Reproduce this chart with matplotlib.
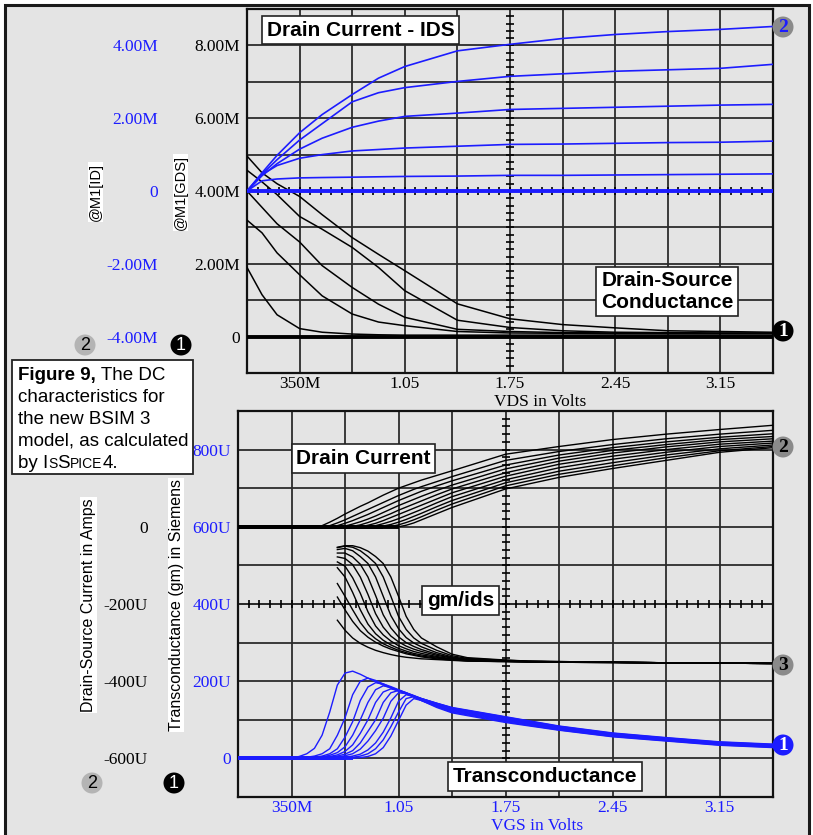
import numpy as np
import matplotlib
matplotlib.use("Agg")
import matplotlib.pyplot as plt
from matplotlib.patches import Rectangle, Ellipse

# ---------------- data ----------------
# top panel: VDS sweep, one trace per VGS step
VDS = [0, 0.1, 0.2, 0.35, 0.5, 0.7, 0.875, 1.05, 1.4, 1.75, 2.1, 2.45, 2.8, 3.15, 3.5]
ID_MA = [  # drain current, mA (blue scale)
    [0, 0.50, 0.98, 1.60, 2.10, 2.65, 3.10, 3.42, 3.85, 4.03, 4.19, 4.30, 4.38, 4.44, 4.52],
    [0, 0.46, 0.86, 1.40, 1.85, 2.45, 2.70, 2.84, 3.01, 3.15, 3.22, 3.29, 3.33, 3.37, 3.48],
    [0, 0.42, 0.75, 1.15, 1.45, 1.75, 1.92, 2.05, 2.14, 2.24, 2.27, 2.30, 2.33, 2.36, 2.38],
    [0, 0.45, 0.70, 0.90, 1.00, 1.10, 1.14, 1.18, 1.23, 1.28, 1.29, 1.31, 1.33, 1.34, 1.37],
    [0, 0.28, 0.33, 0.36, 0.37, 0.38, 0.39, 0.40, 0.41, 0.43, 0.43, 0.44, 0.45, 0.46, 0.47],
]
ID_OFF = [0, 0, 0, 0, 0, 0, 0, 0, 0, 0, 0, 0, 0, 0, 0]
GDS_MS = [  # drain-source conductance, mS (black scale)
    [4.96, 4.50, 4.20, 3.85, 3.35, 2.72, 2.26, 1.81, 0.90, 0.49, 0.33, 0.24, 0.16, 0.14, 0.12],
    [4.57, 4.25, 3.90, 3.30, 2.95, 2.45, 1.90, 1.26, 0.45, 0.25, 0.16, 0.12, 0.11, 0.10, 0.10],
    [4.00, 3.55, 3.10, 2.60, 1.95, 1.35, 0.89, 0.53, 0.20, 0.14, 0.11, 0.10, 0.09, 0.09, 0.09],
    [3.20, 2.85, 2.30, 1.70, 1.12, 0.62, 0.40, 0.30, 0.14, 0.10, 0.09, 0.08, 0.08, 0.08, 0.08],
    [1.90, 1.15, 0.60, 0.22, 0.12, 0.07, 0.05, 0.04, 0.04, 0.04, 0.04, 0.04, 0.04, 0.04, 0.04],
]
GDS_OFF = [0, 0, 0, 0, 0, 0, 0, 0, 0, 0, 0, 0, 0, 0, 0]

# bottom panel: VGS sweep, one trace per step of the second source
VGS = [0, 0.3, 0.35, 0.4, 0.45, 0.5, 0.55, 0.6, 0.65, 0.7, 0.75, 0.8, 0.85, 0.9,
       0.95, 1.0, 1.05, 1.1, 1.15, 1.2, 1.3, 1.4, 1.75, 2.1, 2.45, 2.8, 3.15, 3.5]
GM_US = [  # transconductance, uS (blue scale)
    [0, 0, 1, 5, 12, 26, 60, 120, 190, 221, 226, 218, 208, 199, 190, 182, 174, 167, 161, 155, 143, 132, 108, 84, 66, 54, 43, 37],
    [0, 0, 0, 1, 3, 6, 12, 25, 60, 105, 165, 200, 208, 202, 193, 184, 176, 169, 162, 155, 143, 131, 107, 83, 65, 53, 42, 36],
    [0, 0, 0, 0, 1, 3, 6, 12, 25, 55, 95, 150, 185, 196, 193, 186, 178, 170, 163, 155, 142, 130, 105, 82, 64, 52, 41, 35],
    [0, 0, 0, 0, 0, 2, 4, 8, 15, 30, 60, 100, 145, 178, 188, 184, 177, 170, 162, 154, 141, 129, 104, 80, 63, 51, 40, 34],
    [0, 0, 0, 0, 0, 0, 2, 5, 9, 18, 35, 65, 100, 145, 172, 180, 176, 169, 161, 153, 140, 128, 102, 79, 62, 50, 39, 33],
    [0, 0, 0, 0, 0, 0, 0, 3, 6, 11, 20, 40, 70, 100, 145, 170, 176, 170, 160, 152, 139, 126, 100, 78, 61, 49, 38, 32],
    [0, 0, 0, 0, 0, 0, 0, 0, 3, 7, 12, 24, 45, 72, 104, 148, 170, 168, 159, 151, 137, 124, 99, 77, 60, 48, 37, 31],
    [0, 0, 0, 0, 0, 0, 0, 0, 0, 3, 6, 11, 22, 40, 68, 105, 148, 165, 160, 150, 136, 122, 97, 76, 58, 47, 36, 30],
    [0, 0, 0, 0, 0, 0, 0, 0, 0, 0, 3, 6, 12, 25, 48, 82, 120, 155, 160, 150, 134, 120, 95, 74, 57, 46, 35, 29],
    [0, 0, 0, 0, 0, 0, 0, 0, 0, 0, 0, 2, 5, 12, 28, 58, 98, 138, 155, 150, 132, 118, 93, 73, 56, 45, 34, 28],
]
IDS_UA = [  # drain-source current, uA (black scale)
    [0, 0, 0, 0, 0, 0, 3, 12, 22, 33, 43, 53, 62, 72, 82, 91, 100, 107, 114, 121, 133, 145, 188, 208, 226, 240, 252, 263],
    [0, 0, 0, 0, 0, 0, 0, 3, 10, 18, 27, 36, 45, 54, 63, 72, 81, 89, 97, 104, 117, 130, 172, 195, 213, 228, 240, 250],
    [0, 0, 0, 0, 0, 0, 0, 0, 3, 9, 16, 24, 32, 41, 50, 59, 68, 76, 84, 92, 106, 119, 160, 186, 205, 220, 232, 241],
    [0, 0, 0, 0, 0, 0, 0, 0, 0, 2, 7, 13, 20, 28, 37, 46, 55, 63, 71, 79, 94, 108, 150, 178, 198, 213, 226, 234],
    [0, 0, 0, 0, 0, 0, 0, 0, 0, 0, 1, 5, 11, 18, 26, 34, 43, 51, 59, 67, 83, 98, 140, 170, 191, 207, 220, 228],
    [0, 0, 0, 0, 0, 0, 0, 0, 0, 0, 0, 0, 4, 9, 16, 24, 32, 40, 48, 56, 72, 88, 131, 162, 183, 200, 214, 222],
    [0, 0, 0, 0, 0, 0, 0, 0, 0, 0, 0, 0, 0, 3, 8, 14, 21, 29, 37, 45, 62, 78, 122, 153, 175, 193, 208, 217],
    [0, 0, 0, 0, 0, 0, 0, 0, 0, 0, 0, 0, 0, 0, 2, 6, 12, 19, 27, 35, 52, 68, 114, 144, 166, 186, 202, 212],
    [0, 0, 0, 0, 0, 0, 0, 0, 0, 0, 0, 0, 0, 0, 0, 1, 5, 11, 18, 26, 43, 59, 106, 136, 158, 179, 197, 208],
    [0, 0, 0, 0, 0, 0, 0, 0, 0, 0, 0, 0, 0, 0, 0, 0, 0, 4, 10, 18, 34, 50, 98, 128, 151, 172, 193, 205],
]
# gm/ids traces, read against the gm (blue) scale
GMI_X = [0.65, 0.7, 0.75, 0.8, 0.85, 0.9, 0.95, 1.0, 1.05, 1.1, 1.15, 1.2, 1.3, 1.4, 1.5, 1.7, 1.9, 2.45, 3.0, 3.5]
GM_IDS = [
    [547, 551, 551, 546, 537, 523, 505, 470, 420, 368, 334, 312, 289, 270, 261, 256, 252, 249, 247, 246],
    [546, 550, 547, 538, 523, 505, 470, 420, 368, 334, 312, 298, 280, 266, 259, 255, 252, 249, 247, 246],
    [541, 544, 538, 523, 505, 470, 420, 370, 336, 313, 299, 289, 274, 263, 257, 254, 251, 249, 247, 246],
    [532, 532, 522, 503, 470, 422, 372, 338, 315, 300, 290, 282, 270, 261, 256, 253, 251, 249, 247, 246],
    [522, 518, 502, 470, 425, 375, 340, 317, 302, 291, 283, 277, 267, 260, 255, 253, 251, 249, 247, 246],
    [509, 498, 468, 428, 380, 343, 320, 304, 292, 284, 277, 272, 264, 258, 254, 252, 251, 249, 247, 246],
    [494, 470, 430, 385, 348, 323, 306, 294, 285, 278, 272, 268, 262, 257, 254, 252, 250, 249, 247, 246],
    [453, 420, 385, 352, 327, 310, 297, 288, 280, 274, 269, 265, 260, 256, 253, 252, 250, 249, 247, 246],
    [418, 385, 355, 331, 314, 301, 291, 283, 277, 271, 267, 263, 258, 255, 253, 251, 250, 248, 247, 246],
    [358, 332, 312, 298, 288, 280, 274, 269, 265, 262, 260, 258, 256, 254, 252, 251, 250, 248, 247, 246],
]

# axis ticks / labels
X_TICKS = [0.35, 0.7, 1.05, 1.4, 1.75, 2.1, 2.45, 2.8, 3.15]
X_LABELS = ["350M", "", "1.05", "", "1.75", "", "2.45", "", "3.15"]
GDS_TICKS = [0, 1, 2, 3, 4, 5, 6, 7, 8]
GDS_LABELS = ["0", "", "2.00M", "", "4.00M", "", "6.00M", "", "8.00M"]
ID_TICKS = [-4, -2, 0, 2, 4]
ID_LABELS = ["-4.00M", "-2.00M", "0", "2.00M", "4.00M"]
GM_TICKS = [0, 100, 200, 300, 400, 500, 600, 700, 800]
GM_LABELS = ["0", "", "200U", "", "400U", "", "600U", "", "800U"]
IDS_TICKS = [-600, -400, -200, 0]
IDS_LABELS = ["-600U", "-400U", "-200U", "0"]

# ---------------- styling ----------------
W, H = 813, 835
BG = "#e4e4e4"
BLUE = "#1c1cff"
GRID = "#2b2b2b"
SANS = "Liberation Sans"
plt.rcParams["font.family"] = "Liberation Serif"


def fx(px):
    return px / W


def fy(py):
    return 1 - py / H


def plot_family(ax, x, rows, color, lw=1.0):
    x = np.asarray(x, float)
    for r in rows:
        r = np.asarray(r, float)
        ax.plot(x, r, color=color, lw=lw, zorder=3)
        # the off-state stretch of every trace piles up into a heavy line
        flat = np.where(r == 0, r, np.nan)
        ax.plot(x, flat, color=color, lw=2.8, solid_capstyle="butt", zorder=3)


def style_axes(ax, xlab_color):
    ax.set_facecolor("none")
    ax.set_xlim(0, 3.5)
    ax.set_xticks(X_TICKS, X_LABELS)
    ax.grid(True, color=GRID, lw=1.3)
    ax.set_axisbelow(True)
    ax.tick_params(length=0, labelsize=12.5)
    ax.tick_params(axis="x", pad=2, labelcolor=xlab_color)
    ax.tick_params(axis="y", pad=5)
    for s in ax.spines.values():
        s.set_color("#111111")
        s.set_linewidth(1.6)


def twin_left(ax, color, pad):
    t = ax.twinx()
    t.yaxis.tick_left()
    t.tick_params(axis="y", length=0, pad=pad, labelsize=12.5, labelcolor=color)
    for s in t.spines.values():
        s.set_visible(False)
    return t


def crosshair(ax, y0, ystep, ylim):
    ym = np.arange(ylim[0], ylim[1] + 1e-9, ystep)
    xm = np.arange(0, 3.5 + 1e-9, 0.07)
    ax.plot(np.full(len(ym), 1.75), ym, ls="none", marker="_", ms=6, mew=1.2,
            color="k", zorder=2, clip_on=False)
    ax.plot(xm, np.full(len(xm), y0), ls="none", marker="|", ms=6, mew=1.2,
            color="k", zorder=2)
    ax.axhline(y0, color=GRID, lw=1.3, zorder=1)


def badge(px, py, txt, fc, tc, family=SANS, weight="normal", size=13):
    fig.add_artist(Ellipse((fx(px), fy(py)), 21 / W, 21 / H, transform=fig.transFigure,
                           fc=fc, ec="none", zorder=5))
    fig.text(fx(px), fy(py) - 0.5 / H, txt, ha="center", va="center", color=tc,
             fontsize=size, family=family, weight=weight, zorder=6)


def label_box(px, py, txt, size=15, ls=1.15):
    fig.text(fx(px), fy(py), txt, ha="center", va="center", fontsize=size,
             family=SANS, weight="bold", linespacing=ls, zorder=6,
             bbox=dict(boxstyle="square,pad=0.22", fc="white", ec="#222222", lw=1.2))


fig = plt.figure(figsize=(W / 100, H / 100), dpi=100, facecolor="white")
fig.add_artist(Rectangle((fx(5), fy(845)), (809 - 5) / W, (845 - 5) / H,
                         transform=fig.transFigure, fc=BG, ec="#1a1a1a", lw=2.2, zorder=-10))

# ---------------- top panel ----------------
ax = fig.add_axes([fx(247), fy(373), (773 - 247) / W, (373 - 9) / H])
style_axes(ax, "black")
ax.set_ylim(-1, 9)
ax.set_yticks(GDS_TICKS, GDS_LABELS)
crosshair(ax, 4, 0.2, (-1, 9))
plot_family(ax, VDS, GDS_MS + [GDS_OFF], "black", lw=1.1)

ax2 = twin_left(ax, BLUE, 64)
ax2.set_ylim(-5, 5)
ax2.set_yticks(ID_TICKS, ID_LABELS)
plot_family(ax2, VDS, ID_MA + [ID_OFF], BLUE, lw=1.2)

# ---------------- bottom panel ----------------
bx = fig.add_axes([fx(238), fy(797), (773 - 238) / W, (797 - 411) / H])
style_axes(bx, BLUE)
bx.set_ylim(-100, 900)
bx.set_yticks(GM_TICKS, GM_LABELS)
bx.tick_params(axis="y", labelcolor=BLUE)
crosshair(bx, 400, 20, (-100, 900))
plot_family(bx, VGS, GM_US, BLUE, lw=1.0)
for r in GM_IDS:
    bx.plot(GMI_X, r, color="black", lw=1.0, zorder=3)

bx2 = twin_left(bx, "black", 65)
bx2.set_ylim(-700, 300)
bx2.set_yticks(IDS_TICKS, IDS_LABELS)
plot_family(bx2, VGS, IDS_UA, "black", lw=1.0)

# ---------------- axis titles ----------------
fig.text(fx(540), fy(402), "VDS in Volts", ha="center", va="center", fontsize=12.5)
fig.text(fx(537), fy(826), "VGS in Volts", ha="center", va="center", fontsize=12.5, color=BLUE)
white = dict(boxstyle="square,pad=0.05", fc="white", ec="none")
fig.text(fx(95.5), fy(192), "@M1[ID]", rotation=90, ha="center", va="center",
         fontsize=10.5, family=SANS, bbox=white)
fig.text(fx(180.5), fy(192.5), "@M1[GDS]", rotation=90, ha="center", va="center",
         fontsize=10.5, family=SANS, bbox=white)
fig.text(fx(88.5), fy(605), "Drain-Source Current in Amps", rotation=90, ha="center",
         va="center", fontsize=11.5, family=SANS, bbox=white)
fig.text(fx(176), fy(605), "Transconductance (gm) in Siemens", rotation=90, ha="center",
         va="center", fontsize=11.5, family=SANS, bbox=white)

# ---------------- boxed captions inside the plots ----------------
label_box(360.5, 30, "Drain Current - IDS")
label_box(667, 291.5, "Drain-Source\nConductance")
label_box(363.5, 458.5, "Drain Current")
label_box(460.5, 600.5, "gm/ids")
label_box(545, 776.5, "Transconductance")

# ---------------- trace markers ----------------
badge(85, 345, "2", "#b4b4b4", "black")
badge(181, 345, "1", "black", "white")
badge(92, 783, "2", "#b4b4b4", "black")
badge(174, 783, "1", "black", "white")
badge(783, 27, "2", "#8a8a8a", BLUE, family="Liberation Serif", weight="bold", size=14)
badge(783, 331, "1", "black", "white", family="Liberation Serif", weight="bold", size=14)
badge(783, 447, "2", "#8a8a8a", "black", family="Liberation Serif", weight="bold", size=14)
badge(783, 665, "3", "#8a8a8a", "black", family="Liberation Serif", weight="bold", size=14)
badge(783, 745, "1", BLUE, "white", family="Liberation Serif", weight="bold", size=14)

# ---------------- figure caption ----------------
fig.add_artist(Rectangle((fx(12), fy(474)), (193 - 12) / W, (474 - 360) / H,
                         transform=fig.transFigure, fc="white", ec="#222222", lw=1.3, zorder=4))
renderer = fig.canvas.get_renderer()
CAP = 13.5
caption = [
    [("Figure 9,", CAP, "bold"), (" The DC", CAP, "normal")],
    [("characteristics for", CAP, "normal")],
    [("the new BSIM 3", CAP, "normal")],
    [("model, as calculated", CAP, "normal")],
    [("by I", CAP, "normal"), ("S", 10, "normal"), ("S", CAP, "normal"),
     ("PICE", 10, "normal"), ("4.", CAP, "normal")],
]
for i, line in enumerate(caption):
    x = fx(18)
    y = fy(380 + i * 22)
    for s, size, wt in line:
        t = fig.text(x, y, s, ha="left", va="baseline", fontsize=size, weight=wt,
                     family=SANS, zorder=6)
        x = t.get_window_extent(renderer).x1 / fig.bbox.width

fig.savefig("out.png", dpi=100, facecolor="white")
